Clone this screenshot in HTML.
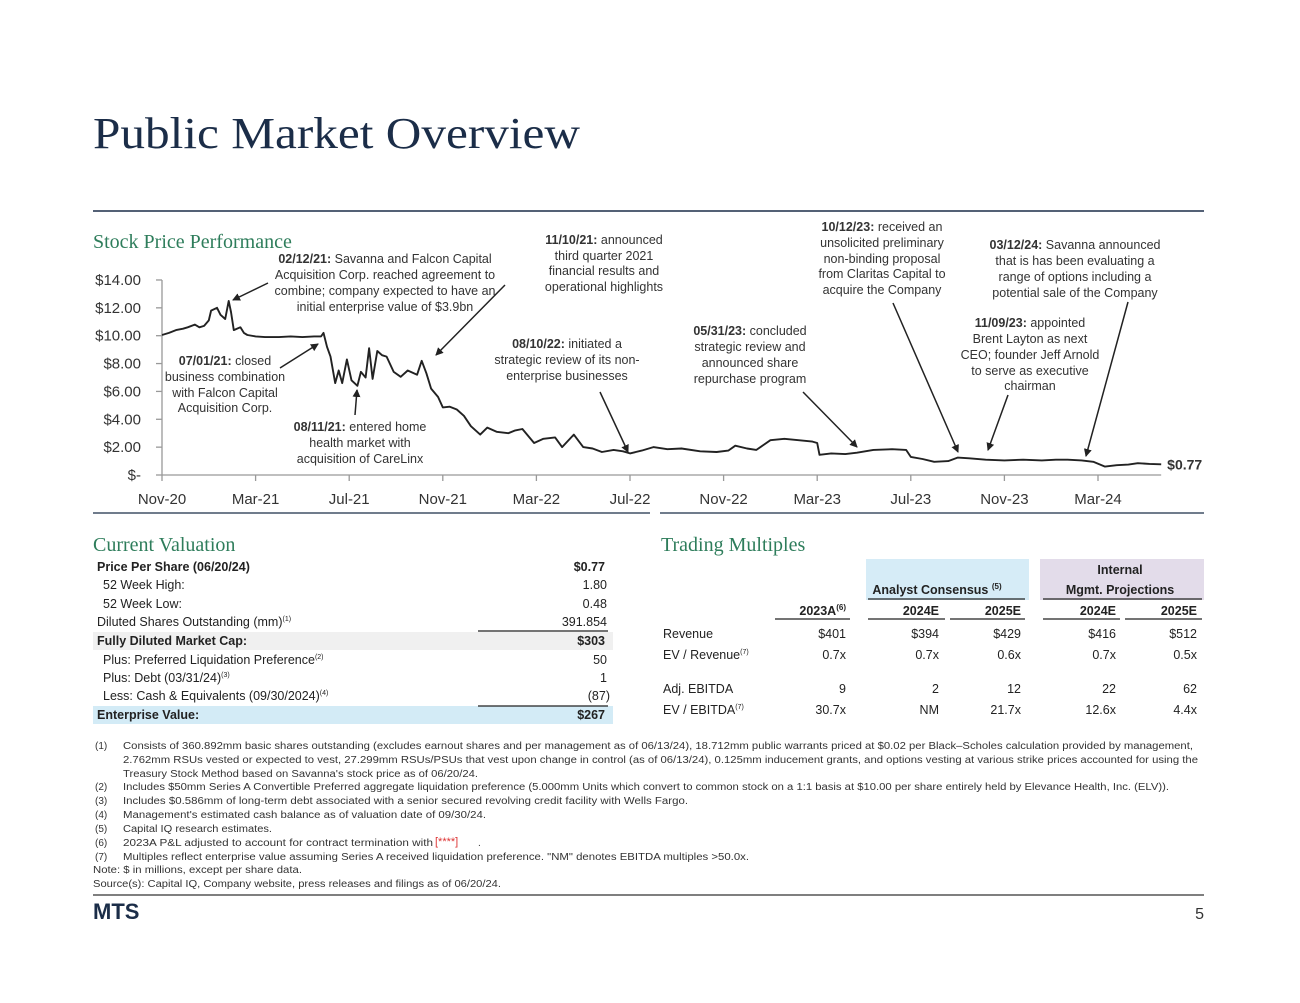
<!DOCTYPE html>
<html><head><meta charset="utf-8"><style>
body{margin:0;background:#fff;}
svg{display:block;font-family:"Liberation Sans",sans-serif;}
.ann{font-size:12.5px;fill:#333;text-anchor:middle}
.ann tspan.b{font-weight:bold}
.tk{font-size:15px;fill:#333}
.tb{font-size:12.5px;fill:#222}
.fn{font-size:10px;fill:#333}
.hd{font-family:"Liberation Serif",serif;font-size:20px;fill:#2e7d5b}
</style></head><body>
<svg id="pg" width="1300" height="1003" viewBox="0 0 1300 1003">
<rect width="1300" height="1003" fill="#fff"/>
<text x="93" y="148" font-family="Liberation Serif,serif" font-size="44" fill="#1b2d48" textLength="487" lengthAdjust="spacingAndGlyphs">Public Market Overview</text>
<line x1="93" y1="211" x2="1204" y2="211" stroke="#1b2d48" stroke-width="1.5"/>
<text x="93" y="248" class="hd">Stock Price Performance</text>

<g id="chart">
<g id="yaxis"></g>
<g id="xaxis"></g>
<path id="line" fill="none" stroke="#222" stroke-width="1.9" stroke-linejoin="round"/>
<text id="lastlbl" x="1168" y="467" font-size="14" font-weight="bold" fill="#333">$0.77</text>
</g>

<defs><marker id="ah" markerWidth="8" markerHeight="8" refX="7" refY="4" orient="auto" markerUnits="userSpaceOnUse"><path d="M0,0 L8,4 L0,8 z" fill="#222"/></marker></defs>
<g stroke="#222" stroke-width="1.5" marker-end="url(#ah)">
<line x1="268" y1="283" x2="233" y2="300"/>
<line x1="280" y1="368" x2="318" y2="344"/>
<line x1="355" y1="415" x2="357" y2="390"/>
<line x1="505" y1="285" x2="436" y2="355"/>
<line x1="600" y1="392" x2="628" y2="452"/>
<line x1="803" y1="392" x2="857" y2="447"/>
<line x1="893" y1="303" x2="958" y2="452"/>
<line x1="1008" y1="395" x2="988" y2="450"/>
<line x1="1128" y1="302" x2="1086" y2="456"/>
</g>

<text class="ann"><tspan x="385" y="263"><tspan class="b">02/12/21:</tspan> Savanna and Falcon Capital</tspan><tspan x="385" y="279">Acquisition Corp. reached agreement to</tspan><tspan x="385" y="295">combine; company expected to have an</tspan><tspan x="385" y="311">initial enterprise value of $3.9bn</tspan></text>
<text class="ann"><tspan x="604" y="244"><tspan class="b">11/10/21:</tspan> announced</tspan><tspan x="604" y="260">third quarter 2021</tspan><tspan x="604" y="275">financial results and</tspan><tspan x="604" y="291">operational highlights</tspan></text>
<text class="ann"><tspan x="225" y="365"><tspan class="b">07/01/21:</tspan> closed</tspan><tspan x="225" y="381">business combination</tspan><tspan x="225" y="397">with Falcon Capital</tspan><tspan x="225" y="412">Acquisition Corp.</tspan></text>
<text class="ann"><tspan x="360" y="431"><tspan class="b">08/11/21:</tspan> entered home</tspan><tspan x="360" y="447">health market with</tspan><tspan x="360" y="463">acquisition of CareLinx</tspan></text>
<text class="ann"><tspan x="567" y="348"><tspan class="b">08/10/22:</tspan> initiated a</tspan><tspan x="567" y="364">strategic review of its non-</tspan><tspan x="567" y="380">enterprise businesses</tspan></text>
<text class="ann"><tspan x="750" y="335"><tspan class="b">05/31/23:</tspan> concluded</tspan><tspan x="750" y="351">strategic review and</tspan><tspan x="750" y="367">announced share</tspan><tspan x="750" y="383">repurchase program</tspan></text>
<text class="ann"><tspan x="882" y="231"><tspan class="b">10/12/23:</tspan> received an</tspan><tspan x="882" y="247">unsolicited preliminary</tspan><tspan x="882" y="263">non-binding proposal</tspan><tspan x="882" y="278">from Claritas Capital to</tspan><tspan x="882" y="294">acquire the Company</tspan></text>
<text class="ann"><tspan x="1075" y="249"><tspan class="b">03/12/24:</tspan> Savanna announced</tspan><tspan x="1075" y="265">that is has been evaluating a</tspan><tspan x="1075" y="281">range of options including a</tspan><tspan x="1075" y="297">potential sale of the Company</tspan></text>
<text class="ann"><tspan x="1030" y="327"><tspan class="b">11/09/23:</tspan> appointed</tspan><tspan x="1030" y="343">Brent Layton as next</tspan><tspan x="1030" y="359">CEO; founder Jeff Arnold</tspan><tspan x="1030" y="375">to serve as executive</tspan><tspan x="1030" y="390">chairman</tspan></text>

<line x1="93" y1="513" x2="650" y2="513" stroke="#1b2d48" stroke-width="1.2"/>
<line x1="660" y1="513" x2="1204" y2="513" stroke="#1b2d48" stroke-width="1.2"/>

<text x="93" y="551" class="hd">Current Valuation</text>
<rect x="93" y="632" width="520" height="18" fill="#f0f0f0"/>
<rect x="93" y="706" width="520" height="18" fill="#d3ebf6"/>
<line x1="478" y1="631" x2="608" y2="631" stroke="#222" stroke-width="1.2"/>
<line x1="478" y1="706" x2="608" y2="706" stroke="#222" stroke-width="1.2"/>
<g class="tb">
<text x="97" y="571" font-weight="bold">Price Per Share (06/20/24)</text><text x="605" y="571" text-anchor="end" font-weight="bold">$0.77</text>
<text x="103" y="589">52 Week High:</text><text x="607" y="589" text-anchor="end">1.80</text>
<text x="103" y="608">52 Week Low:</text><text x="607" y="608" text-anchor="end">0.48</text>
<text x="97" y="626">Diluted Shares Outstanding (mm)<tspan font-size="7" dy="-5">(1)</tspan></text><text x="607" y="626" text-anchor="end">391.854</text>
<text x="97" y="645" font-weight="bold">Fully Diluted Market Cap:</text><text x="605" y="645" text-anchor="end" font-weight="bold">$303</text>
<text x="103" y="664">Plus: Preferred Liquidation Preference<tspan font-size="7" dy="-5">(2)</tspan></text><text x="607" y="664" text-anchor="end">50</text>
<text x="103" y="682">Plus: Debt (03/31/24)<tspan font-size="7" dy="-5">(3)</tspan></text><text x="607" y="682" text-anchor="end">1</text>
<text x="103" y="700">Less: Cash &amp; Equivalents (09/30/2024)<tspan font-size="7" dy="-5">(4)</tspan></text><text x="610" y="700" text-anchor="end">(87)</text>
<text x="97" y="719" font-weight="bold">Enterprise Value:</text><text x="605" y="719" text-anchor="end" font-weight="bold">$267</text>
</g>

<text x="661" y="551" class="hd">Trading Multiples</text>
<rect x="866" y="559" width="163" height="41" fill="#d6ecf7"/>
<rect x="1040" y="559" width="164" height="41" fill="#e3dcea"/>
<g class="tb">
<text x="1120" y="574" text-anchor="middle" font-weight="bold">Internal</text>
<text x="937" y="594" text-anchor="middle" font-weight="bold">Analyst Consensus <tspan font-size="8" dy="-5">(5)</tspan></text>
<text x="1120" y="594" text-anchor="middle" font-weight="bold">Mgmt. Projections</text>
<line x1="868" y1="599" x2="1025" y2="599" stroke="#222" stroke-width="1.2"/>
<line x1="1043" y1="599" x2="1202" y2="599" stroke="#222" stroke-width="1.2"/>
<text x="846" y="615" text-anchor="end" font-weight="bold">2023A<tspan font-size="8" dy="-5">(6)</tspan></text>
<text x="939" y="615" text-anchor="end" font-weight="bold">2024E</text>
<text x="1021" y="615" text-anchor="end" font-weight="bold">2025E</text>
<text x="1116" y="615" text-anchor="end" font-weight="bold">2024E</text>
<text x="1197" y="615" text-anchor="end" font-weight="bold">2025E</text>
<g stroke="#222" stroke-width="1.2"><line x1="775" y1="619" x2="850" y2="619"/><line x1="868" y1="619" x2="945" y2="619"/><line x1="950" y1="619" x2="1025" y2="619"/><line x1="1043" y1="619" x2="1120" y2="619"/><line x1="1125" y1="619" x2="1202" y2="619"/></g>
<text x="663" y="638">Revenue</text><text x="846" y="638" text-anchor="end">$401</text><text x="939" y="638" text-anchor="end">$394</text><text x="1021" y="638" text-anchor="end">$429</text><text x="1116" y="638" text-anchor="end">$416</text><text x="1197" y="638" text-anchor="end">$512</text>
<text x="663" y="659">EV / Revenue<tspan font-size="7" dy="-5">(7)</tspan></text><text x="846" y="659" text-anchor="end">0.7x</text><text x="939" y="659" text-anchor="end">0.7x</text><text x="1021" y="659" text-anchor="end">0.6x</text><text x="1116" y="659" text-anchor="end">0.7x</text><text x="1197" y="659" text-anchor="end">0.5x</text>
<text x="663" y="693">Adj. EBITDA</text><text x="846" y="693" text-anchor="end">9</text><text x="939" y="693" text-anchor="end">2</text><text x="1021" y="693" text-anchor="end">12</text><text x="1116" y="693" text-anchor="end">22</text><text x="1197" y="693" text-anchor="end">62</text>
<text x="663" y="714">EV / EBITDA<tspan font-size="7" dy="-5">(7)</tspan></text><text x="846" y="714" text-anchor="end">30.7x</text><text x="939" y="714" text-anchor="end">NM</text><text x="1021" y="714" text-anchor="end">21.7x</text><text x="1116" y="714" text-anchor="end">12.6x</text><text x="1197" y="714" text-anchor="end">4.4x</text>
</g>

<g class="fn">
<text x="95" y="749">(1)</text><text x="123" y="749" textLength="1070" lengthAdjust="spacingAndGlyphs">Consists of 360.892mm basic shares outstanding (excludes earnout shares and per management as of 06/13/24), 18.712mm public warrants priced at $0.02 per Black–Scholes calculation provided by management,</text>
<text x="123" y="763" textLength="1075" lengthAdjust="spacingAndGlyphs">2.762mm RSUs vested or expected to vest, 27.299mm RSUs/PSUs that vest upon change in control (as of 06/13/24), 0.125mm inducement grants, and options vesting at various strike prices accounted for using the</text>
<text x="123" y="777" textLength="355" lengthAdjust="spacingAndGlyphs">Treasury Stock Method based on Savanna's stock price as of 06/20/24.</text>
<text x="95" y="790">(2)</text><text x="123" y="790" textLength="1046" lengthAdjust="spacingAndGlyphs">Includes $50mm Series A Convertible Preferred aggregate liquidation preference (5.000mm Units which convert to common stock on a 1:1 basis at $10.00 per share entirely held by Elevance Health, Inc. (ELV)).</text>
<text x="95" y="804">(3)</text><text x="123" y="804" textLength="565" lengthAdjust="spacingAndGlyphs">Includes $0.586mm of long-term debt associated with a senior secured revolving credit facility with Wells Fargo.</text>
<text x="95" y="818">(4)</text><text x="123" y="818" textLength="363" lengthAdjust="spacingAndGlyphs">Management's estimated cash balance as of valuation date of 09/30/24.</text>
<text x="95" y="832">(5)</text><text x="123" y="832" textLength="149" lengthAdjust="spacingAndGlyphs">Capital IQ research estimates.</text>
<text x="95" y="846">(6)</text><text x="123" y="846" textLength="310" lengthAdjust="spacingAndGlyphs">2023A P&amp;L adjusted to account for contract termination with</text><text x="435" y="845" fill="#d33" font-size="11">[****]</text><text x="478" y="846">.</text>
<text x="95" y="860">(7)</text><text x="123" y="860" textLength="626" lengthAdjust="spacingAndGlyphs">Multiples reflect enterprise value assuming Series A received liquidation preference. "NM" denotes EBITDA multiples &gt;50.0x.</text>
<text x="93" y="873" textLength="209" lengthAdjust="spacingAndGlyphs">Note: $ in millions, except per share data.</text>
<text x="93" y="887" textLength="408" lengthAdjust="spacingAndGlyphs">Source(s): Capital IQ, Company website, press releases and filings as of 06/20/24.</text>
</g>
<line x1="93" y1="895" x2="1204" y2="895" stroke="#333" stroke-width="1.2"/>
<text x="93" y="919" font-size="22" font-weight="bold" fill="#1b2d48">MTS</text>
<text x="1204" y="919" font-size="16" fill="#333" text-anchor="end">5</text>
</svg>
<script>
const months = [0,0.3,0.6,0.9,1.1,1.4,1.6,1.8,2.0,2.1,2.35,2.5,2.7,2.85,2.95,3.07,3.2,3.35,3.5,3.65,4.0,4.4,5.0,5.5,6.0,6.5,6.8,6.9,7.05,7.2,7.4,7.55,7.7,7.9,8.1,8.35,8.5,8.7,8.85,9.0,9.2,9.4,9.6,9.9,10.2,10.5,10.9,11.1,11.3,11.5,11.8,12.0,12.3,12.6,12.9,13.2,13.6,13.9,14.3,14.8,15.1,15.4,15.9,16.3,16.8,17.1,17.6,18.0,18.4,18.8,19.3,19.7,20.0,20.5,21.0,21.6,22.2,23.0,23.7,24.2,24.5,25.0,25.4,26.0,26.6,27.2,27.8,28.0,28.1,28.6,29.2,29.7,30.4,31.2,31.8,32.0,32.5,33.0,33.6,34.0,34.5,35.2,36.0,36.8,37.6,38.2,38.7,39.3,39.8,40.3,40.8,41.3,41.7,42.2,42.7];
const prices = [10.05,10.2,10.4,10.5,10.6,10.8,10.6,10.7,11.1,11.8,12.0,11.5,11.2,12.5,11.7,10.4,10.5,10.6,10.2,10.05,9.95,9.9,9.9,9.95,9.9,9.95,9.95,10.2,9.2,8.5,6.6,7.5,6.6,8.3,6.8,6.4,7.4,7.0,9.1,6.9,8.9,8.6,8.5,7.4,7.05,7.5,7.2,8.2,7.3,6.2,5.6,4.85,4.9,4.7,4.25,3.5,2.9,3.4,3.1,3.0,3.2,3.3,2.3,2.6,2.7,2.0,2.9,2.0,1.9,1.65,1.8,1.7,1.55,1.75,2.0,1.85,1.9,1.7,1.65,1.75,2.1,1.9,1.8,2.5,2.6,2.5,2.4,2.3,1.45,1.55,1.5,1.6,1.8,1.85,1.8,1.3,1.15,0.95,1.0,1.25,1.2,1.1,1.05,1.1,1.05,1.1,1.1,1.05,0.95,0.6,0.7,0.75,0.85,0.8,0.77];
const yTicks = [0,2,4,6,8,10,12,14];
const yTickLabels = ["$-","$2.00","$4.00","$6.00","$8.00","$10.00","$12.00","$14.00"];
const xTickMonths = [0,4,8,12,16,20,24,28,32,36,40];
const xTickLabels = ["Nov-20","Mar-21","Jul-21","Nov-21","Mar-22","Jul-22","Nov-22","Mar-23","Jul-23","Nov-23","Mar-24"];

const X0=162, XS=23.4, Y0=475, YS=13.93;
const xs = m => X0 + m*XS;
const ys = v => Y0 - v*YS;
const NS="http://www.w3.org/2000/svg";
const ya=document.getElementById('yaxis'), xa=document.getElementById('xaxis');
const mk=(p,t,a)=>{const e=document.createElementNS(NS,t);for(const k in a)e.setAttribute(k,a[k]);p.appendChild(e);return e;};
const yl=mk(ya,'line',{x1:X0,y1:ys(14),x2:X0,y2:Y0,stroke:'#999','stroke-width':1.3});


yTicks.forEach((v,i)=>{
  const t=mk(ya,'line',{x1:X0-6,y1:ys(v),x2:X0,y2:ys(v),stroke:'#999','stroke-width':1.3});
  
  
  const l=mk(ya,'text',{x:141,y:ys(v)+5,'text-anchor':'end',class:'tk'});
  l.textContent=yTickLabels[i];
  
  
});
const xl=mk(xa,'line',{x1:X0,y1:Y0,x2:xs(months[months.length-1]),y2:Y0,stroke:'#999','stroke-width':1.3});


xTickMonths.forEach((m,i)=>{
  const t=mk(xa,'line',{x1:xs(m),y1:Y0,x2:xs(m),y2:Y0+6,stroke:'#999','stroke-width':1.3});
  
  
  const l=mk(xa,'text',{x:xs(m),y:504,'text-anchor':'middle',class:'tk'});
  l.textContent=xTickLabels[i];
  
  
});
let d='';
months.forEach((m,i)=>{d+=(i?'L':'M')+xs(m).toFixed(1)+','+ys(prices[i]).toFixed(1);});
document.getElementById('line').setAttribute('d',d);
const last=document.getElementById('lastlbl');
last.setAttribute('x',xs(months[months.length-1])+6);
last.setAttribute('y',ys(prices[prices.length-1])+5);
</script>
</body></html>
